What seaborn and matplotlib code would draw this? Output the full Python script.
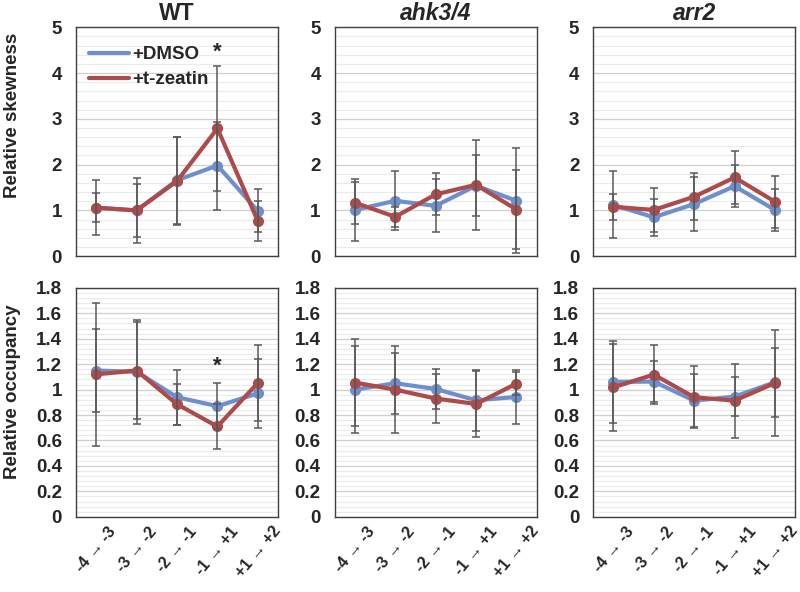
"""
plot.py - relative skewness / occupancy per nucleosome step, WT vs mutants.
"""
import matplotlib
matplotlib.use("Agg")
import matplotlib.pyplot as plt
from matplotlib.lines import Line2D
from matplotlib.ticker import MultipleLocator, FuncFormatter
import pandas as pd
import seaborn as sns

# ── Data ───────────────────────────────────────────────────────────────────
steps = ["-4 → -3", "-3 → -2", "-2 → -1", "-1 → +1", "+1 → +2"]
genotypes = ["WT", "ahk3/4", "arr2"]
treatments = ["+DMSO", "+t-zeatin"]

# relative skewness (top row)
skew_dmso = {
    "WT":     [1.06, 1.00, 1.66, 1.98, 0.99],
    "ahk3/4": [1.01, 1.21, 1.10, 1.54, 1.21],
    "arr2":   [1.12, 0.85, 1.14, 1.53, 1.01],
}
skew_dmso_err = {
    "WT":     [0.60, 0.57, 0.95, 0.96, 0.47],
    "ahk3/4": [0.67, 0.64, 0.58, 0.66, 1.15],
    "arr2":   [0.73, 0.41, 0.58, 0.46, 0.45],
}
skew_zeatin = {
    "WT":     [1.06, 1.00, 1.64, 2.79, 0.77],
    "ahk3/4": [1.17, 0.86, 1.35, 1.56, 1.02],
    "arr2":   [1.08, 1.01, 1.30, 1.72, 1.19],
}
skew_zeatin_err = {
    "WT":     [0.31, 0.71, 0.96, 1.36, 0.43],
    "ahk3/4": [0.46, 0.22, 0.46, 0.98, 0.86],
    "arr2":   [0.28, 0.48, 0.51, 0.57, 0.57],
}

# relative occupancy (bottom row)
occ_dmso = {
    "WT":     [1.15, 1.14, 0.94, 0.87, 0.97],
    "ahk3/4": [1.00, 1.05, 1.005, 0.916, 0.942],
    "arr2":   [1.06, 1.063, 0.913, 0.945, 1.058],
}
occ_dmso_err = {
    "WT":     [0.33, 0.41, 0.215, 0.18, 0.27],
    "ahk3/4": [0.34, 0.24, 0.16, 0.24, 0.215],
    "arr2":   [0.32, 0.16, 0.21, 0.155, 0.27],
}
occ_zeatin = {
    "WT":     [1.12, 1.15, 0.885, 0.71, 1.052],
    "ahk3/4": [1.055, 1.00, 0.93, 0.887, 1.047],
    "arr2":   [1.018, 1.118, 0.94, 0.913, 1.052],
}
occ_zeatin_err = {
    "WT":     [0.56, 0.38, 0.16, 0.18, 0.30],
    "ahk3/4": [0.345, 0.34, 0.19, 0.26, 0.09],
    "arr2":   [0.34, 0.23, 0.245, 0.29, 0.42],
}

# significance marks: (genotype, step index, y position)
skew_sig = [("WT", 3, 4.45)]
occ_sig = [("WT", 3, 1.18)]

colors = {"+DMSO": "#6E8FCD", "+t-zeatin": "#AD4A4A"}
err_color = "#595959"

sns.set_style("white")
plt.rcParams["font.family"] = ["Liberation Sans", "DejaVu Sans"]
plt.rcParams["font.weight"] = "bold"


def long_table(dmso, dmso_err, zeatin, zeatin_err, g):
    rows = []
    for t, vals, errs in [("+DMSO", dmso[g], dmso_err[g]),
                          ("+t-zeatin", zeatin[g], zeatin_err[g])]:
        for i, (s, v, e) in enumerate(zip(steps, vals, errs)):
            rows.append({"step": s, "pos": i, "treatment": t, "value": v, "err": e})
    return pd.DataFrame(rows)


def draw_panel(ax, df, ymax, major, minor, sig, g):
    sns.lineplot(data=df, x="pos", y="value", hue="treatment", hue_order=treatments,
                 palette=colors, marker="o", markersize=8, markeredgewidth=0,
                 linewidth=3, sort=False, legend=False, ax=ax, zorder=3)
    for t in treatments:
        sub = df[df["treatment"] == t]
        ax.errorbar(sub["pos"], sub["value"], yerr=sub["err"], fmt="none",
                    ecolor=err_color, elinewidth=1.1, capsize=3, capthick=1.1, zorder=5)
    for gg, i, y in sig:
        if gg == g:
            ax.text(i, y, "*", ha="center", va="center", fontsize=16, fontweight="bold")

    ax.set_xlim(-0.5, len(steps) - 0.5)
    ax.set_ylim(0, ymax)
    ax.yaxis.set_major_locator(MultipleLocator(major))
    ax.yaxis.set_minor_locator(MultipleLocator(minor))
    ax.yaxis.set_major_formatter(FuncFormatter(lambda v, p: f"{v:g}"))
    ax.grid(True, which="major", axis="y", color="#cfcfcf", linewidth=0.9, zorder=0)
    ax.grid(True, which="minor", axis="y", color="#ebebeb", linewidth=0.8, zorder=0)
    ax.set_axisbelow(True)
    ax.tick_params(axis="y", which="both", length=0, labelsize=13.5, pad=10)
    ax.tick_params(axis="x", which="both", length=0, pad=5)
    for lab in ax.get_yticklabels():
        lab.set_fontweight("bold")
    for sp in ax.spines.values():
        sp.set_color("#404040")
        sp.set_linewidth(1.0)
    ax.set_xlabel("")
    ax.set_ylabel("")


fig, axes = plt.subplots(2, 3, figsize=(8, 5.92), dpi=100)
fig.subplots_adjust(left=0.095, right=0.994, top=0.954, bottom=0.127,
                    wspace=0.28, hspace=0.138)

for j, g in enumerate(genotypes):
    ax = axes[0, j]
    df = long_table(skew_dmso, skew_dmso_err, skew_zeatin, skew_zeatin_err, g)
    draw_panel(ax, df, 5, 1, 0.2, skew_sig, g)
    ax.set_xticks(range(len(steps)))
    ax.set_xticklabels([])
    style = "normal" if g == "WT" else "italic"
    ax.set_title(g, fontsize=16.5, fontweight="bold", fontstyle=style, pad=5)

    ax = axes[1, j]
    df = long_table(occ_dmso, occ_dmso_err, occ_zeatin, occ_zeatin_err, g)
    draw_panel(ax, df, 1.8, 0.2, 0.04, occ_sig, g)
    ax.set_xticks(range(len(steps)))
    ax.set_xticklabels(steps, rotation=50, ha="center", va="top",
                       fontsize=11.5, fontweight="bold")

axes[0, 0].set_ylabel("Relative skewness", fontsize=13.5, fontweight="bold")
axes[0, 0].yaxis.set_label_coords(-0.27, 0.616)
axes[1, 0].set_ylabel("Relative occupancy", fontsize=13.5, fontweight="bold")
axes[1, 0].yaxis.set_label_coords(-0.27, 0.546)

handles = [Line2D([0], [0], color=colors[t], linewidth=3) for t in treatments]
axes[0, 0].legend(handles, treatments, loc="upper left", bbox_to_anchor=(0.0, 0.975),
                  frameon=False, handlelength=2.1, handletextpad=0.2,
                  borderaxespad=0.3, labelspacing=0.42,
                  prop={"weight": "bold", "size": 13.5})

plt.savefig("out.png", dpi=100)
plt.close()
